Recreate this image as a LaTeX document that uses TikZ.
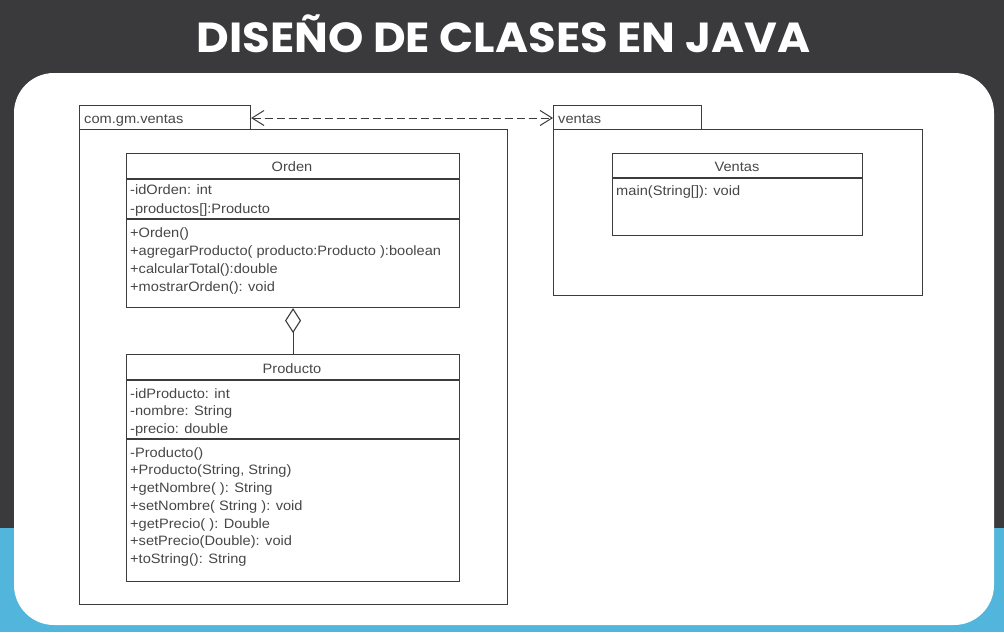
\documentclass[tikz,border=0pt]{standalone}
\usepackage{fontspec}
\setmainfont{Liberation Sans}
\newfontfamily\titlefont{Poppins}
\usetikzlibrary{arrows.meta}
\definecolor{bgdark}{HTML}{3A3A3C}
\definecolor{bgblue}{HTML}{52B5DB}
\definecolor{umlline}{HTML}{3C3C3C}
\definecolor{umltext}{HTML}{474747}
\newcommand{\hx}[1]{\scalebox{1.075}[1]{#1}}
\tikzset{
  umlbox/.style={draw=umlline, line width=1.1pt, fill=white, inner sep=0pt, anchor=north west},
  umlsep/.style={draw=umlline, line width=1.1pt},
  umltxt/.style={text=umltext, font=\fontsize{13.6}{15}\selectfont, inner sep=0pt, anchor=base west},
  umlhead/.style={text=umltext, font=\fontsize{13.6}{15}\selectfont, inner sep=0pt, anchor=base},
}
\begin{document}
\begin{tikzpicture}[x=1pt,y=-1pt]
\useasboundingbox (0,0) rectangle (1004,632);
% background
\fill[bgdark] (0,0) rectangle (1004,632);
\fill[bgblue] (0,528) rectangle (1004,632);
\fill[white, rounded corners=40pt] (14,73) rectangle (994,625);
% title
\node[text=white, font=\titlefont\bfseries\fontsize{42}{46}\selectfont, anchor=base, inner sep=0pt] (title) at (503.5,52) {\scalebox{1.07}[1]{DISEÑO DE CLASES EN JAVA}};
% packages
\node[umlbox, minimum width=428pt, minimum height=475pt] (pkgA) at (79,129) {};
\node[umlbox, minimum width=171pt, minimum height=24pt] (tabA) at (79,105) {};
\node[umltxt] (tabAt) at (84,123) {\hx{com.gm.ventas}};
\node[umlbox, minimum width=369pt, minimum height=166pt] (pkgB) at (553,129) {};
\node[umlbox, minimum width=148pt, minimum height=24pt] (tabB) at (553,105) {};
\node[umltxt] (tabBt) at (558,123) {\hx{ventas}};
\draw[umlline, line width=1pt, dash pattern=on 8pt off 4pt,
  {Straight Barb[length=12pt,width=15pt,line width=1pt]}-{Straight Barb[length=12pt,width=15pt,line width=1pt]}]
  (tabA.east |- 0,118) -- (tabB.west |- 0,118);
% class Orden
\node[umlbox, minimum width=333pt, minimum height=154pt] (orden) at (126,153) {};
\draw[umlsep] (126,179) -- (459,179);
\draw[umlsep] (126,219) -- (459,219);
\node[umlhead] (ordenh) at (292,171) {\hx{Orden}};
\foreach \t [count=\i] in {{-idOrden: int},{-productos[]:Producto}}
  \node[umltxt] (oa\i) at (130,176+18.5*\i) {\hx{\t}};
\foreach \t [count=\i] in {{+Orden()},{+agregarProducto( producto:Producto ):boolean},{+calcularTotal():double},{+mostrarOrden(): void}}
  \node[umltxt] (om\i) at (130,219+18*\i) {\hx{\t}};
% class Producto
\node[umlbox, minimum width=333pt, minimum height=227pt] (producto) at (126,354) {};
\draw[umlsep] (126,380) -- (459,380);
\draw[umlsep] (126,439) -- (459,439);
\node[umlhead] (producth) at (292,373) {\hx{Producto}};
\foreach \t [count=\i] in {{-idProducto: int},{-nombre: String},{-precio: double}}
  \node[umltxt] (pa\i) at (130,380.5+17.6*\i) {\hx{\t}};
\foreach \t [count=\i] in {{-Producto()},{+Producto(String, String)},{+getNombre( ): String},{+setNombre( String ): void},{+getPrecio( ): Double},{+setPrecio(Double): void},{+toString(): String}}
  \node[umltxt] (pm\i) at (130,439.5+17.7*\i) {\hx{\t}};
% aggregation
\draw[umlline, line width=1.1pt, -{Diamond[open, length=25pt, width=16pt, line width=1.1pt]}] (producto.north) -- (orden.south);
% class Ventas
\node[umlbox, minimum width=250pt, minimum height=82pt] (ventas) at (612,153) {};
\draw[umlsep] (612,178) -- (862,178);
\node[umlhead] (ventash) at (737,171) {\hx{Ventas}};
\node[umltxt] (vm1) at (616,195) {\hx{main(String[]): void}};
\end{tikzpicture}
\end{document}
